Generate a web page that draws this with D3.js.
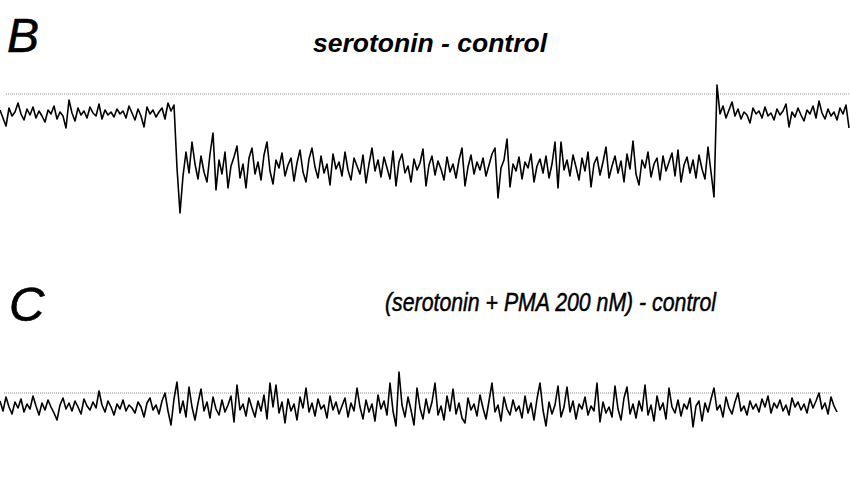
<!DOCTYPE html>
<html>
<head>
<meta charset="utf-8">
<script src="https://cdnjs.cloudflare.com/ajax/libs/d3/7.8.5/d3.min.js"></script>
<style>
  body { margin: 0; background: #fff; }
  svg { display: block; }
</style>
</head>
<body>
<svg id="main-canvas"></svg>
<script>

// panel labels and titles
var panelLabels = ['B', 'C'];
var panelTitles = ['serotonin - control', '(serotonin + PMA 200 nM) - control'];

// difference current (0 = dotted reference line, negative = downward)
var traceB = [
  -16,-24,-32,-14,-22,-18,-9,-20,-26,-15,
  -21,-13,-24,-17,-22,-28,-16,-20,-12,-25,
  -18,-22,-34,-6,-19,-27,-14,-21,-17,-24,
  -13,-19,-22,-10,-25,-16,-21,-18,-23,-15,
  -20,-17,-24,-12,-19,-26,-15,-22,-33,-13,
  -20,-16,-23,-18,-14,-25,-9,-17,-11,
  -74,-119,-82,-58,-79,-48,
  -70,-85,-62,-78,-88,-60,-39,-96,-66,-80,
  -58,-94,-72,-63,-52,-84,-70,-94,-64,-54,
  -80,-68,-86,-61,-48,-77,-90,-66,-74,-59,
  -82,-71,-64,-87,-69,-56,-78,-88,-65,-54,
  -73,-84,-62,-79,-70,-91,-60,-75,-68,-82,
  -58,-76,-86,-64,-72,-80,-61,-89,-70,-54,
  -77,-66,-83,-63,-74,-85,-57,-92,-68,-60,
  -79,-72,-88,-65,-76,-69,-55,-92,-71,-62,
  -81,-67,-75,-86,-63,-78,-70,-84,-66,-54,
  -92,-73,-61,-80,-68,-76,-64,-82,-71,-60,
  -54,-104,-74,-66,-45,-93,-70,-77,-63,-85,
  -68,-74,-60,-88,-72,-65,-79,-62,-84,-70,
  -48,-94,-48,-76,-66,-82,-61,-73,-86,-64,
  -77,-58,-93,-70,-63,-81,-68,-53,-84,-72,
  -62,-79,-67,-88,-60,-75,-47,-80,-91,-66,
  -74,-58,-83,-70,-64,-86,-62,-77,-68,-59,
  -82,-56,-88,-71,-63,-79,-66,-84,-61,-75,
  -85,-53,-78,-103,
  9,
  -20,-12,-24,-16,-8,-22,-15,-25,-18,-21,
  -29,-14,-20,-17,-24,-13,-22,-19,-26,-15,
  -21,-17,-10,-33,-18,-23,-14,-21,-27,-16,
  -20,-12,-24,-7,-19,-25,-15,-22,-18,-26,
  -14,-20,-11,-34
];

var traceC = [
  -8,-18,-4,-14,-21,-9,-15,-6,-19,-11,
  -16,-3,-13,-22,-10,-17,-7,-14,-20,-27,
  -12,-5,-16,-10,-18,-8,-14,-21,-6,-13,
  -17,-9,-15,2,-12,-19,-8,-14,-22,-11,
  -16,-7,-18,-12,-15,-20,-9,-14,-24,-10,
  -5,-17,-12,-21,-8,0,-18,-32,-6,11,
  -20,-8,-24,6,-14,-27,-10,4,-18,-9,
  -25,-4,-16,-22,-7,-19,-12,-3,-29,8,
  -17,-11,-23,-5,-15,-24,-8,-18,-2,-26,
  10,-14,8,-20,-9,-30,-6,-18,-11,-27,
  -4,-15,5,-19,-10,-23,-6,-16,-12,-25,
  -3,-17,-9,-21,-13,-5,-24,-10,-18,5,
  -14,-26,-7,-19,-11,-28,-2,-16,-8,-22,
  10,-18,-33,21,-12,-24,-4,-17,-32,5,
  -15,-26,-6,-20,-9,10,-22,-13,-27,-3,
  -18,4,-21,-10,-25,-30,-5,-17,-11,-23,
  -2,-15,-26,-8,10,-19,-12,-28,-4,-16,
  -22,-7,-18,-13,-25,-3,-20,-10,-27,-6,
  10,-17,-33,-9,-21,-12,7,-24,-14,6,
  -19,-8,-26,-11,-16,-4,-22,-13,-18,10,
  -29,-9,-20,-14,-24,7,-16,-27,-5,6,
  -21,-11,-25,-8,-18,8,-22,-12,-28,-3,
  -17,-10,-26,5,-14,-20,-7,-23,-11,-16,
  -5,-34,-13,-8,-28,-10,-19,-6,5,-17,
  -12,-24,-4,-15,-21,-9,0,-18,-13,-22,
  -8,-16,-11,-19,-6,-14,-3,-20,-10,-15,
  -7,-18,-12,-22,-5,-14,-9,-17,-11,-20,
  -6,-15,-8,0,-16,-10,-21,-4,-13,-19
];

var w = 850;
var h = 485;

function drawTrace(g, data, x0, x1, yRef, lineX0, lineX1)
{
  var xScale = d3.scaleLinear().domain([0, data.length - 1]).range([x0, x1]);
  var yScale = d3.scaleLinear().domain([0, -100]).range([yRef, yRef + 100]);

  // dotted reference line at zero
  g.append("line")
    .attr("x1", lineX0)
    .attr("x2", lineX1)
    .attr("y1", yScale(0))
    .attr("y2", yScale(0))
    .attr("stroke", "#8a8a8a")
    .attr("stroke-width", 1)
    .attr("stroke-dasharray", "1,1");

  var line = d3.line()
    .x(function(d, i) { return xScale(i); })
    .y(function(d) { return yScale(d); });

  g.append("path")
    .datum(data)
    .attr("d", line)
    .attr("fill", "none")
    .attr("stroke", "#000")
    .attr("stroke-width", 1.6)
    .attr("stroke-linejoin", "round");
}

function setupDisplay()
{
  var canvas = d3.select("#main-canvas")
    .attr("width", w)
    .attr("height", h);

  canvas.append("rect")
    .attr("width", w)
    .attr("height", h)
    .attr("fill", "#fff");

  var font = "'Liberation Sans', Arial, Helvetica, sans-serif";

  // panel B
  canvas.append("text")
    .attr("x", 7)
    .attr("y", 52)
    .attr("font-family", font)
    .attr("font-style", "italic")
    .attr("font-size", 48)
    .attr("stroke", "#000")
    .attr("stroke-width", 0.6)
    .text(panelLabels[0]);

  canvas.append("text")
    .attr("x", 313)
    .attr("y", 52)
    .attr("font-family", font)
    .attr("font-style", "italic")
    .attr("font-weight", "bold")
    .attr("font-size", 25)
    .attr("textLength", 234)
    .attr("lengthAdjust", "spacingAndGlyphs")
    .text(panelTitles[0]);

  drawTrace(canvas.append("g"), traceB, 0, 849, 94, 6, 850);

  // panel C
  canvas.append("text")
    .attr("x", 9)
    .attr("y", 321)
    .attr("font-family", font)
    .attr("font-style", "italic")
    .attr("font-size", 49)
    .attr("stroke", "#000")
    .attr("stroke-width", 0.6)
    .text(panelLabels[1]);

  canvas.append("text")
    .attr("x", 385)
    .attr("y", 311)
    .attr("font-family", "'Liberation Sans Narrow', " + font)
    .attr("font-style", "italic")
    .attr("font-size", 26)
    .attr("stroke", "#000")
    .attr("stroke-width", 0.5)
    .attr("textLength", 331)
    .attr("lengthAdjust", "spacingAndGlyphs")
    .text(panelTitles[1]);

  drawTrace(canvas.append("g"), traceC, 0, 837, 393, 4, 831);
}

setupDisplay();

</script>
</body>
</html>
